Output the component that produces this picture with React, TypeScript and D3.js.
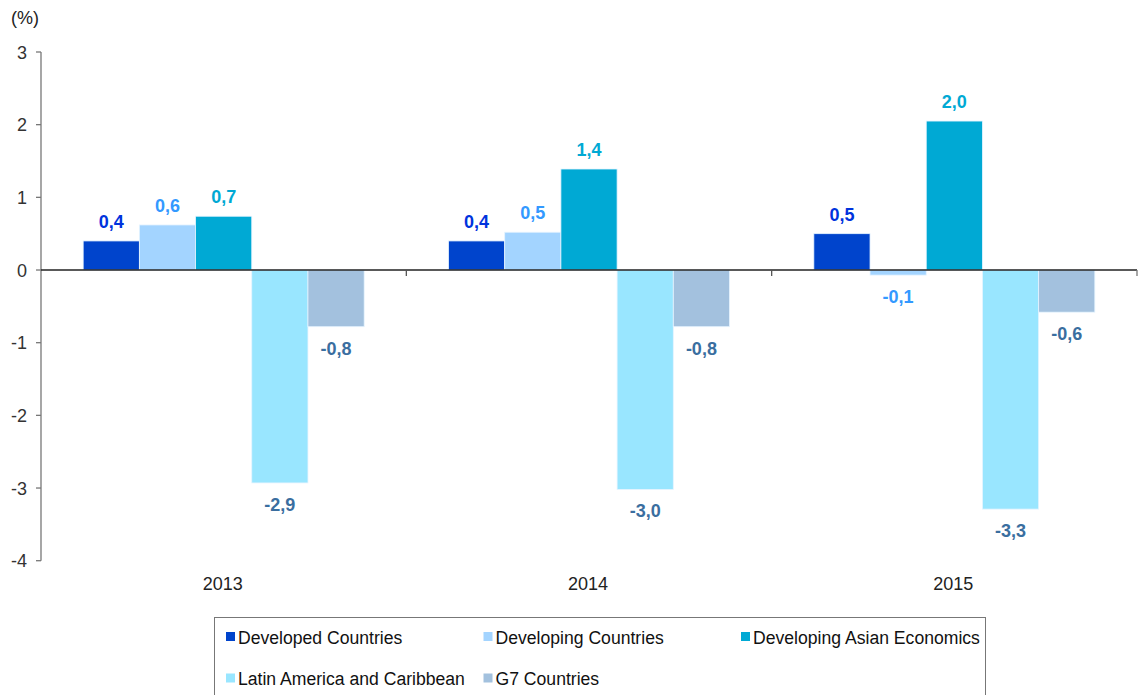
import React from "react";
import * as d3 from "d3";

const years = ["2013", "2014", "2015"];
const seriesNames = [
  "Developed Countries",
  "Developing Countries",
  "Developing Asian Economics",
  "Latin America and Caribbean",
  "G7 Countries",
];
const developed = [0.4, 0.4, 0.5];
const developing = [0.62, 0.52, -0.07];
const asian = [0.74, 1.39, 2.05];
const latin = [-2.93, -3.02, -3.29];
const g7 = [-0.78, -0.78, -0.58];
const labelTexts = [
  ["0,4", "0,4", "0,5"],
  ["0,6", "0,5", "-0,1"],
  ["0,7", "1,4", "2,0"],
  ["-2,9", "-3,0", "-3,3"],
  ["-0,8", "-0,8", "-0,6"],
];
const yTicks = [3, 2, 1, 0, -1, -2, -3, -4];

const barColors = ["#0044CC", "#A3D4FF", "#00A9D4", "#99E6FF", "#A3C1DE"];
const labelColors = ["#0033DD", "#3399FF", "#00A9D4", "#3A6E9F", "#3A6E9F"];

export default function App() {
  const seriesValues = [developed, developing, asian, latin, g7];
  const left = 41;
  const right = 1137;
  const y = d3.scaleLinear().domain([-4, 3]).range([560.7, 52]);
  const x0 = d3.scaleBand().domain(years).range([left, right]).paddingInner(0).paddingOuter(0);
  const groupW = 281;
  const x1 = d3
    .scaleBand()
    .domain(seriesNames.map((_, i) => String(i)))
    .range([0, groupW])
    .padding(0);
  const font = "Liberation Sans, Arial, sans-serif";
  const y0 = y(0);

  return (
    <svg width={1140} height={695} style={{ position: "absolute", left: 0, top: 0 }} fontFamily={font}>
      <rect x={0} y={0} width={1140} height={695} fill="#fff" />
      {/* y axis */}
      <text x={11} y={24} fontSize={18} fill="#222">(%)</text>
      <line x1={left} x2={left} y1={y(3)} y2={y(-4)} stroke="#777" strokeWidth={1.3} />
      {yTicks.map((t) => (
        <g key={t}>
          <line x1={left - 5} x2={left} y1={y(t)} y2={y(t)} stroke="#777" strokeWidth={1.3} />
          <text x={27} y={y(t) + 6.5} fontSize={18} fill="#333" textAnchor="end">
            {t}
          </text>
        </g>
      ))}
      {/* bars */}
      {years.map((yr, gi) => {
        const gx = (x0(yr) as number) + (x0.bandwidth() - groupW) / 2;
        return seriesValues.map((vals, si) => {
          const v = vals[gi];
          const bx = gx + (x1(String(si)) as number);
          const bw = x1.bandwidth();
          const top = v >= 0 ? y(v) : y0;
          const h = Math.abs(y(v) - y0);
          const ly = v >= 0 ? y(v) - 13 : y(v) + 28;
          return (
            <g key={`${gi}-${si}`}>
              <rect x={bx} y={top} width={bw} height={h} fill={barColors[si]} stroke="#E6F4FF" strokeWidth={0.8} />
              <text
                x={bx + bw / 2}
                y={ly}
                fontSize={18}
                fontWeight="bold"
                fill={labelColors[si]}
                textAnchor="middle"
              >
                {labelTexts[si][gi]}
              </text>
            </g>
          );
        });
      })}
      {/* x axis */}
      <line x1={left} x2={right} y1={y0} y2={y0} stroke="#222" strokeWidth={1.3} />
      {years.map((yr, i) => (
        <g key={yr}>
          {i > 0 && (
            <line x1={x0(yr) as number} x2={x0(yr) as number} y1={y0} y2={y0 + 6} stroke="#555" strokeWidth={1.3} />
          )}
          <text x={(x0(yr) as number) + x0.bandwidth() / 2 - 1} y={590} fontSize={18} fill="#222" textAnchor="middle">
            {yr}
          </text>
        </g>
      ))}
      <line x1={right} x2={right} y1={y0} y2={y0 + 6} stroke="#777" strokeWidth={1.3} />
      {/* legend */}
      <rect x={214.5} y={617.5} width={771} height={90} fill="none" stroke="#777" strokeWidth={1} />
      {seriesNames.map((n, i) => {
        const col = i % 3;
        const row = Math.floor(i / 3);
        const lx = 226 + col * 257.5;
        const ly = 637 + row * 41.5;
        return (
          <g key={n}>
            <rect x={lx} y={ly - 5} width={9} height={9} fill={barColors[i]} />
            <text x={lx + 12} y={ly + 6.5} fontSize={17.6} fill="#111">
              {n}
            </text>
          </g>
        );
      })}
    </svg>
  );
}
